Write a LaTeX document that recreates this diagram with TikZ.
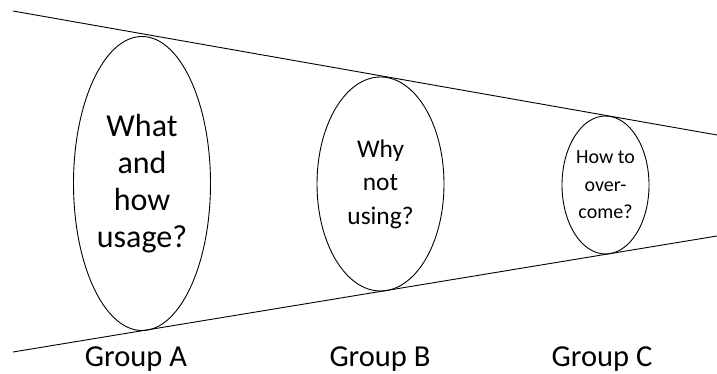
\documentclass[tikz,border=0pt]{standalone}
\usepackage{fontspec}
\setmainfont{Carlito}
\usetikzlibrary{shapes.geometric}
\begin{document}
\begin{tikzpicture}[x=1pt,y=-1pt,
  grp/.style={draw=black,line width=0.9pt,ellipse,inner sep=0pt,align=center},
  lbl/.style={font=\fontsize{30.5}{36}\selectfont,anchor=base},
  edge/.style={draw=black,line width=0.9pt}]
\useasboundingbox (0,0) rectangle (717,374);
\coordinate (t1) at (13,11);
\coordinate (t2) at (717,135);
\coordinate (b1) at (13,352);
\coordinate (b2) at (717,236);
\draw[edge] (t1) -- (t2);
\draw[edge] (b1) -- (b2);
\node[grp,minimum width=137pt,minimum height=294pt,font=\fontsize{32}{37}\selectfont] (A) at (142,183.5) {What\\and\\how\\usage?};
\node[grp,minimum width=127pt,minimum height=214pt,font=\fontsize{25.4}{33.5}\selectfont] (B) at (380.5,184) {Why\\not\\using?};
\node[grp,minimum width=87pt,minimum height=138pt,font=\fontsize{20}{27.5}\selectfont] (C) at (605.5,185) {How to\\over-\\come?};
\node[lbl] (la) at (136,366) {Group A};
\node[lbl] (lb) at (380,366) {Group B};
\node[lbl] (lc) at (602,366) {Group C};
\end{tikzpicture}
\end{document}
